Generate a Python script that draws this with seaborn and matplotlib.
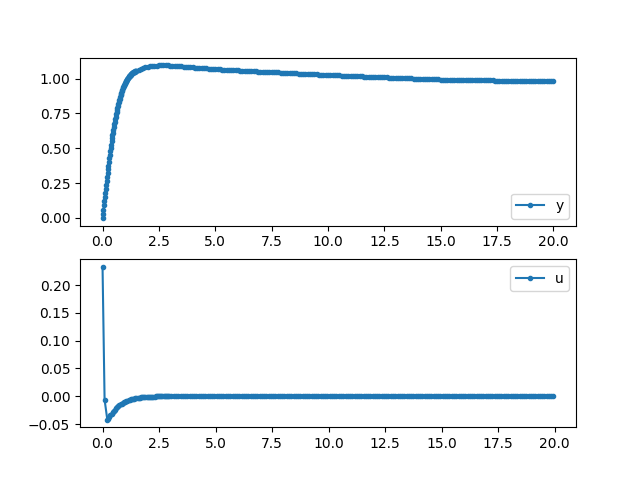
import numpy as np
import matplotlib
matplotlib.use('Agg')
import matplotlib.pyplot as plt
from matplotlib.ticker import MultipleLocator
import seaborn as sns

# --- output y: fast samples (every 0.02 s) during the rise, 0.00 .. 1.48 s
y_fast = [0.000, 0.030, 0.060, 0.090, 0.120, 0.150, 0.179, 0.208, 0.237, 0.266,
          0.295, 0.322, 0.349, 0.376, 0.403, 0.430, 0.454, 0.478, 0.502, 0.526,
          0.550, 0.571, 0.592, 0.613, 0.634, 0.655, 0.673, 0.691, 0.709, 0.727,
          0.745, 0.760, 0.775, 0.790, 0.805, 0.820, 0.832, 0.844, 0.856, 0.868,
          0.880, 0.890, 0.900, 0.910, 0.920, 0.930, 0.938, 0.945, 0.953, 0.960,
          0.968, 0.974, 0.980, 0.986, 0.992, 0.998, 1.002, 1.007, 1.011, 1.016,
          1.020, 1.023, 1.027, 1.030, 1.034, 1.037, 1.039, 1.042, 1.044, 1.047,
          1.049, 1.051, 1.052, 1.054, 1.055]

# --- output y: slow samples (every 0.1 s), 1.5 .. 20.0 s
y_slow = [1.057, 1.064, 1.070, 1.075, 1.080,
          1.084, 1.087, 1.090, 1.092, 1.094, 1.095, 1.096, 1.096, 1.096, 1.095,
          1.094, 1.093, 1.092, 1.090, 1.089, 1.088, 1.086, 1.085, 1.083, 1.082,
          1.080, 1.079, 1.077, 1.076, 1.075, 1.074, 1.073, 1.071, 1.070, 1.069,
          1.068, 1.067, 1.066, 1.065, 1.064, 1.063, 1.063, 1.062, 1.061, 1.060,
          1.059, 1.058, 1.057, 1.056, 1.055, 1.054, 1.054, 1.053, 1.052, 1.051,
          1.050, 1.049, 1.048, 1.048, 1.047, 1.046, 1.045, 1.044, 1.044, 1.043,
          1.042, 1.041, 1.040, 1.040, 1.039, 1.038, 1.037, 1.036, 1.036, 1.035,
          1.034, 1.033, 1.032, 1.032, 1.031, 1.030, 1.029, 1.028, 1.028, 1.027,
          1.026, 1.025, 1.025, 1.024, 1.023, 1.023, 1.022, 1.021, 1.020, 1.020,
          1.019, 1.018, 1.018, 1.017, 1.016, 1.016, 1.015, 1.014, 1.013, 1.013,
          1.012, 1.011, 1.011, 1.010, 1.009, 1.009, 1.008, 1.007, 1.006, 1.006,
          1.005, 1.004, 1.004, 1.003, 1.003, 1.002, 1.001, 1.001, 1.000, 1.000,
          0.999, 0.998, 0.998, 0.997, 0.997, 0.996, 0.995, 0.995, 0.994, 0.994,
          0.993, 0.993, 0.992, 0.992, 0.991, 0.991, 0.991, 0.990, 0.990, 0.989,
          0.989, 0.989, 0.989, 0.988, 0.988, 0.988, 0.988, 0.987, 0.987, 0.987,
          0.987, 0.987, 0.987, 0.987, 0.986, 0.986, 0.986, 0.986, 0.986, 0.986,
          0.986, 0.986, 0.986, 0.986, 0.986, 0.986, 0.985, 0.985, 0.985, 0.985,
          0.985, 0.985, 0.985, 0.985, 0.985, 0.985, 0.985, 0.985, 0.985, 0.985,
          0.985]

# --- control u: first three samples, then every 0.05 s up to 3.0 s
t_u_head = [0.0, 0.09, 0.21]
u_head = [0.233, -0.006, -0.042]
u_tail = [-0.0415, -0.0380, -0.0345, -0.0315, -0.0288, -0.0263, -0.0240,
          -0.0218, -0.0198, -0.0180, -0.0163, -0.0148, -0.0134, -0.0121,
          -0.0110, -0.0099, -0.0089, -0.0080, -0.0072, -0.0065, -0.0058,
          -0.0052, -0.0047, -0.0042, -0.0037, -0.0033, -0.0030, -0.0027,
          -0.0024, -0.0021, -0.0019, -0.0017, -0.0015, -0.0013, -0.0012,
          -0.0010, -0.0009, -0.0008, -0.0007, -0.0006, -0.0005, -0.0005,
          -0.0004, -0.0004, -0.0003, -0.0003, -0.0002, -0.0002, -0.0002,
          -0.0001, -0.0001, -0.0001, -0.0001, -0.0001, 0.0]
n_u_zero = 170  # then every 0.1 s, u stays at 0 until t = 20.0

t_y = np.concatenate([0.02 * np.arange(len(y_fast)),
                      1.5 + 0.1 * np.arange(len(y_slow))])
y = np.array(y_fast + y_slow)

t_tail = 0.25 + 0.05 * np.arange(len(u_tail))
t_zero = t_tail[-1] + 0.1 * np.arange(1, n_u_zero + 1)
t_u = np.concatenate([t_u_head, t_tail, t_zero])
u = np.array(u_head + u_tail + [0.0] * n_u_zero)

fig, (ax1, ax2) = plt.subplots(2, 1, figsize=(6.4, 4.8), dpi=100)

line_kw = dict(marker='.', markersize=6, mec='#1f77b4', mew=1.0,
               linewidth=1.5, color='#1f77b4')

sns.lineplot(x=t_y, y=y, ax=ax1, label='y', sort=False, **line_kw)
ax1.legend(loc='lower right')
ax1.set_xlabel('')
ax1.set_ylabel('')

sns.lineplot(x=t_u, y=u, ax=ax2, label='u', sort=False, **line_kw)
ax2.yaxis.set_major_locator(MultipleLocator(0.05))
ax2.legend(loc='upper right')
ax2.set_xlabel('')
ax2.set_ylabel('')

plt.savefig('out.png')
